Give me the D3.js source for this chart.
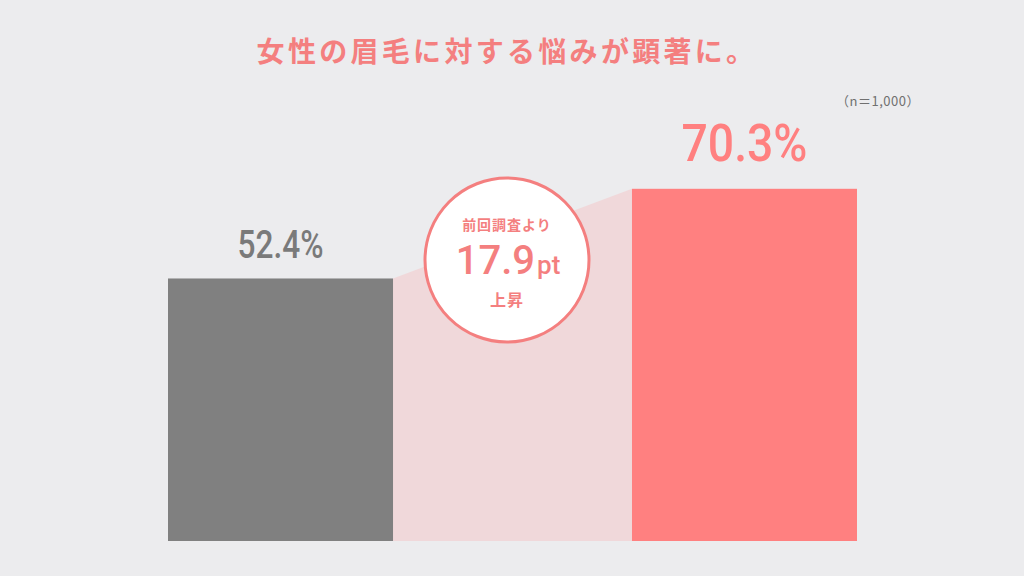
<!DOCTYPE html>
<html>
<head>
<meta charset="utf-8">
<script src="https://cdn.jsdelivr.net/npm/d3@7"></script>
<style>
  html, body { margin: 0; padding: 0; background: #ececee; }
  svg { display: block; }
</style>
</head>
<body>
<svg id="chart"></svg>
<script>
// data
const categories = ["前回調査", "今回調査"];
const values = [52.4, 70.3];
const valueLabels = ["52.4%", "70.3%"];
const titleText = "女性の眉毛に対する悩みが顕著に。";
const sampleText = "（n＝1,000）";
const badgeLines = ["前回調査より", "17.9", "pt", "上昇"];

const width = 1024, height = 576;
const pink = "#ff8080";
const gray = "#808080";

const svg = d3.select("#chart")
    .attr("width", width)
    .attr("height", height);

svg.append("rect")
    .attr("width", width)
    .attr("height", height)
    .attr("fill", "#ececee");

const x = d3.scaleBand()
    .domain(categories)
    .range([168, 857])
    .paddingInner(0.515)
    .paddingOuter(0);

const y = d3.scaleLinear()
    .domain([0, 100])
    .range([541, 40]);

// connector area between the bar tops
const connector = [
    [x(categories[0]) + x.bandwidth(), values[0]],
    [x(categories[1]), values[1]]
];
const area = d3.area()
    .x(d => d[0])
    .y0(y(0))
    .y1(d => y(d[1]));

svg.append("path")
    .datum(connector)
    .attr("d", area)
    .attr("fill", "#f0d8da");

// bars
svg.selectAll(".bar")
    .data(values)
    .enter().append("rect")
    .attr("class", "bar")
    .attr("x", (d, i) => x(categories[i]))
    .attr("y", d => y(d))
    .attr("width", x.bandwidth())
    .attr("height", d => y(0) - y(d))
    .attr("fill", (d, i) => i === 0 ? gray : pink);

// value labels
const labelSize = [38, 52];
const labelWidth = [86, 126];
svg.selectAll(".val")
    .data(values)
    .enter().append("text")
    .attr("class", "val")
    .attr("x", (d, i) => x(categories[i]) + x.bandwidth() / 2 - labelWidth[i] / 2)
    .attr("y", (d, i) => y(d) - (i === 0 ? 20 : 28))
    .attr("textLength", (d, i) => labelWidth[i])
    .attr("lengthAdjust", "spacingAndGlyphs")
    .attr("font-family", "Roboto, 'DejaVu Sans', sans-serif")
    .attr("font-weight", 500)
    .attr("font-size", (d, i) => labelSize[i])
    .attr("fill", (d, i) => i === 0 ? "#7a7a7a" : pink)
    .text((d, i) => valueLabels[i]);

// title
svg.append("text")
    .attr("x", 507)
    .attr("y", 62)
    .attr("text-anchor", "middle")
    .attr("font-family", "'Noto Sans CJK JP', sans-serif")
    .attr("font-weight", 700)
    .attr("font-size", 28)
    .attr("letter-spacing", 3.3)
    .attr("fill", "#f47f7f")
    .text(titleText);

// sample size
svg.append("text")
    .attr("x", 878)
    .attr("y", 106)
    .attr("text-anchor", "middle")
    .attr("font-family", "'Noto Sans CJK JP', sans-serif")
    .attr("font-size", 13)
    .attr("letter-spacing", 0.5)
    .attr("fill", "#707070")
    .text(sampleText);

// badge
const cx = 507, cy = 260;
const badge = svg.append("g");
badge.append("circle")
    .attr("cx", cx)
    .attr("cy", cy)
    .attr("r", 82)
    .attr("fill", "#ffffff")
    .attr("stroke", "#f47f7f")
    .attr("stroke-width", 3);

badge.append("text")
    .attr("x", cx)
    .attr("y", cy - 30)
    .attr("text-anchor", "middle")
    .attr("font-family", "'Noto Sans CJK JP', sans-serif")
    .attr("font-weight", 700)
    .attr("font-size", 14)
    .attr("letter-spacing", 1)
    .attr("fill", "#f47f7f")
    .text(badgeLines[0]);

const big = badge.append("text")
    .attr("x", cx + 1)
    .attr("y", cy + 14)
    .attr("text-anchor", "middle")
    .attr("font-family", "Roboto, 'DejaVu Sans', sans-serif")
    .attr("font-weight", 500)
    .attr("fill", "#f47f7f");
big.append("tspan")
    .attr("font-size", 40)
    .text(badgeLines[1]);
big.append("tspan")
    .attr("font-size", 26)
    .attr("dx", 2)
    .text(badgeLines[2]);

badge.append("text")
    .attr("x", cx)
    .attr("y", cy + 46)
    .attr("text-anchor", "middle")
    .attr("font-family", "'Noto Sans CJK JP', sans-serif")
    .attr("font-weight", 700)
    .attr("font-size", 16)
    .attr("letter-spacing", 1)
    .attr("fill", "#f47f7f")
    .text(badgeLines[3]);
</script>
</body>
</html>
